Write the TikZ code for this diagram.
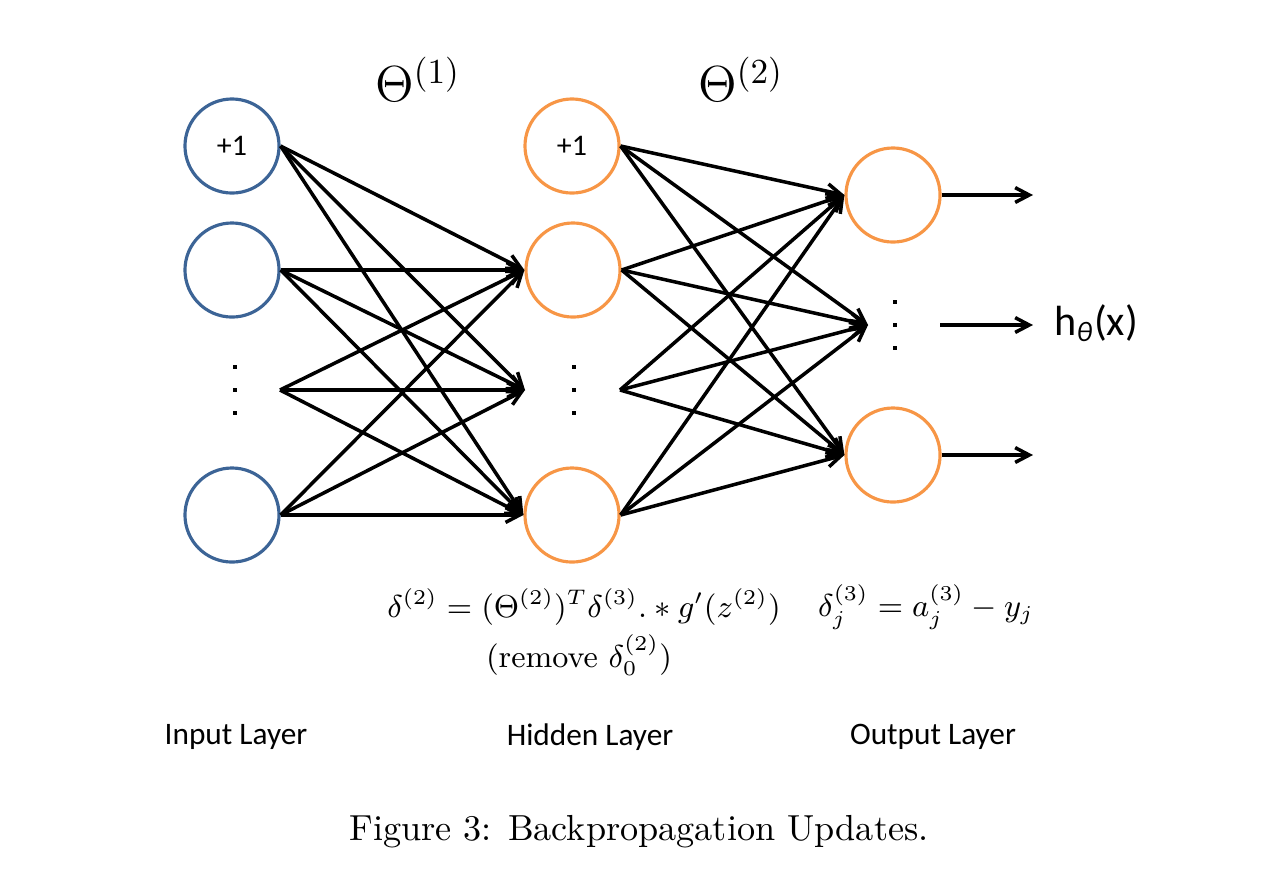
\documentclass[tikz,border=0pt]{standalone}
\usepackage[no-math]{fontspec}
\usepackage{amsmath}
\usepackage{tikz}
\usetikzlibrary{arrows.meta, positioning}
\newfontfamily\calibri{Carlito}
\definecolor{InBlue}{RGB}{60,100,150}
\definecolor{HidOrange}{RGB}{247,150,70}

\begin{document}
\begin{tikzpicture}[x=0.01cm,y=-0.01cm,
    unit/.style={circle,draw=#1,line width=0.9pt,minimum size=0.94cm,
               inner sep=0pt,font=\calibri\fontsize{8.5}{10}\selectfont},
    arr/.style={-{Straight Barb[length=4pt,width=4.2pt]},line width=1pt},
    dotmark/.style={rectangle,fill=black,minimum size=0.045cm,inner sep=0pt},
    lay/.style={font=\calibri\fontsize{8.9}{10}\selectfont},
    eq/.style={font=\fontsize{8.9}{11}\selectfont}
  ]
    \useasboundingbox (0,0) rectangle (1280,878);
    % layers
    \node[unit=InBlue] (in1) at (232,146) {+1};
    \node[unit=InBlue] (in2) at (232,270) {};
    \node[unit=InBlue] (in4) at (232,515) {};
    \node[unit=HidOrange] (hid1) at (572,146) {+1};
    \node[unit=HidOrange] (hid2) at (573,270) {};
    \node[unit=HidOrange] (hid4) at (572,515) {};
    \node[unit=HidOrange] (out1) at (893,195) {};
    \node[unit=HidOrange] (out3) at (893,455) {};
    \foreach \yy in {367,390,413} {
      \node[dotmark] (din\yy) at (235,\yy) {};
      \node[dotmark] (dhid\yy) at (574,\yy) {};
    }
    \foreach \yy in {302,325,348}
      \node[dotmark] (dout\yy) at (895,\yy) {};
    \coordinate (cin) at (280,390);
    \coordinate (chid) at (525,390);
    \coordinate (chidr) at (620,390);
    \coordinate (cout) at (868,325);
    \coordinate (cres) at (940,325);
    \coordinate (e1) at (1033,195);
    \coordinate (e2) at (1033,325);
    \coordinate (e3) at (1033,455);
    % weights
    \foreach \s in {in1.east,in2.east,cin,in4.east}
      \foreach \t in {hid2.west,chid,hid4.west}
        \draw[arr] (\s) -- (\t);
    \foreach \s in {hid1.east,hid2.east,chidr,hid4.east}
      \foreach \t in {out1.west,cout,out3.west}
        \draw[arr] (\s) -- (\t);
    \draw[arr] (out1.east) -- (e1);
    \draw[arr] (cres) -- (e2);
    \draw[arr] (out3.east) -- (e3);
    % labels
    \node[font=\fontsize{14.8}{17}\selectfont] (th1) at (418,79) {$\Theta^{(1)}$};
    \node[font=\fontsize{14.8}{17}\selectfont] (th2) at (741,79) {$\Theta^{(2)}$};
    \node[anchor=west,font=\calibri\fontsize{12}{14}\selectfont] (hx) at (1042,323)
      {h$_{\text{\itshape θ}}$(x)};
    \node[eq] (eqhid) at (584,607) {$\delta^{(2)} = (\Theta^{(2)})^T\delta^{(3)} .* g'(z^{(2)})$};
    \node[eq] (eqrem) at (579,655) {$(\text{remove } \delta_0^{(2)})$};
    \node[eq] (eqout) at (926,607) {$\delta_j^{(3)} = a_j^{(3)} - y_j$};
    \node[lay] (linp) at (236,737) {Input Layer};
    \node[lay] (lhid) at (590,737) {Hidden Layer};
    \node[lay] (lout) at (933,737) {Output Layer};
    \node[font=\fontsize{10.3}{12}\selectfont] (cap) at (639,832) {Figure 3: Backpropagation Updates.};
  \end{tikzpicture}
\end{document}
